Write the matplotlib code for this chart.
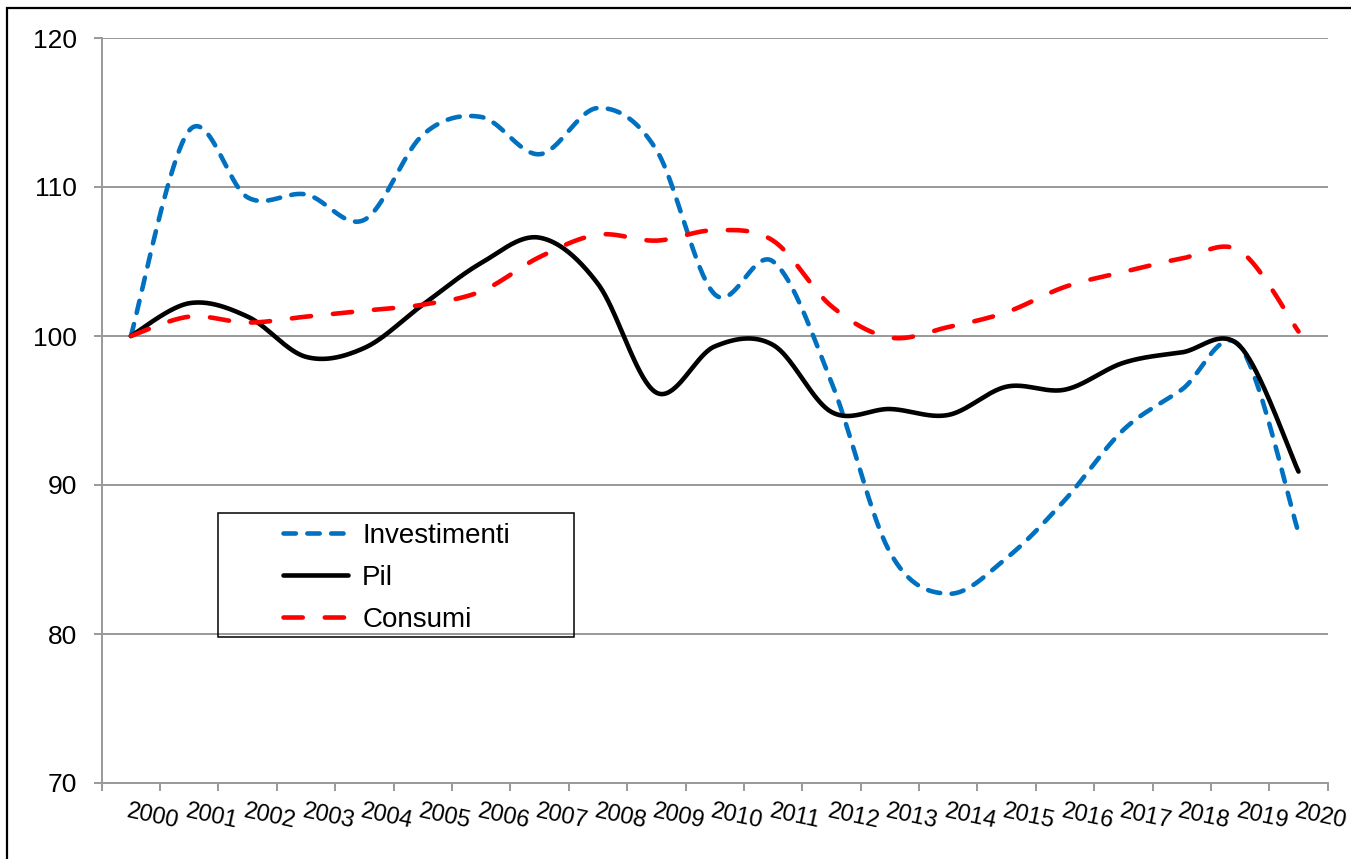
import numpy as np
import matplotlib
matplotlib.use("Agg")
import matplotlib.pyplot as plt
from matplotlib.patches import Rectangle
from matplotlib.lines import Line2D
from matplotlib.transforms import ScaledTranslation

plt.rcParams['font.family'] = ['Liberation Sans', 'DejaVu Sans']

years = [str(y) for y in range(2000, 2021)]
investimenti = [100.0, 113.8, 109.3, 109.5, 107.8, 113.5, 114.7, 112.2, 115.3, 112.5,
                102.8, 105.0, 96.9, 85.5, 82.7, 85.1, 89.0, 93.7, 96.4, 99.3, 86.8]
pil = [100.0, 102.2, 101.3, 98.6, 99.2, 102.1, 104.9, 106.6, 103.5, 96.2,
       99.3, 99.4, 94.9, 95.1, 94.7, 96.6, 96.4, 98.2, 98.9, 99.3, 90.9]
consumi = [100.0, 101.3, 100.9, 101.3, 101.7, 102.1, 103.0, 105.3, 106.8, 106.4,
           107.1, 106.4, 102.0, 99.9, 100.6, 101.6, 103.3, 104.3, 105.2, 105.7, 100.3]
yticks = [70, 80, 90, 100, 110, 120]


def smooth(y, n=40):
    """Excel-like smoothed line (Catmull-Rom Bezier) through category points."""
    x = np.arange(len(y), dtype=float)
    y = np.asarray(y, dtype=float)
    px = np.concatenate([[x[0]], x, [x[-1]]])
    py = np.concatenate([[y[0]], y, [y[-1]]])
    t = np.linspace(0, 1, n, endpoint=False)[:, None]
    out = []
    for i in range(1, len(px) - 2):
        p0 = np.array([px[i - 1], py[i - 1]])
        p1 = np.array([px[i], py[i]])
        p2 = np.array([px[i + 1], py[i + 1]])
        p3 = np.array([px[i + 2], py[i + 2]])
        c1 = p1 + (p2 - p0) / 6.0
        c2 = p2 - (p3 - p1) / 6.0
        pts = ((1 - t) ** 3) * p1 + 3 * ((1 - t) ** 2) * t * c1 + 3 * (1 - t) * t ** 2 * c2 + t ** 3 * p2
        out.append(pts)
    out.append(np.array([[x[-1], y[-1]]]))
    out = np.vstack(out)
    return out[:, 0], out[:, 1]


W, H = 1351, 859
fig = plt.figure(figsize=(W / 100, H / 100), dpi=100)
ax = fig.add_axes([101.7 / W, 1 - 783 / H, (1327.7 - 101.7) / W, (783 - 38) / H])

grid_c = '#999999'
blue = '#0070C0'
red = '#FF0000'
LW = 3.3
blue_ls = (0, (2.7, 2.5))
red_ls = (0, (4.2, 4.8))

xb, yb = smooth(investimenti)
ax.plot(xb, yb, color=blue, lw=LW, linestyle=blue_ls, dash_capstyle='round',
        solid_capstyle='round', zorder=3)
xk, yk = smooth(pil)
ax.plot(xk, yk, color='black', lw=LW, solid_capstyle='round', zorder=4)
xr, yr = smooth(consumi)
ax.plot(xr, yr, color=red, lw=LW, linestyle=red_ls, dash_capstyle='round',
        solid_capstyle='round', zorder=5)

ax.set_xlim(-0.5, len(years) - 0.5)
ax.set_ylim(70, 120)
ax.set_yticks(yticks)
ax.set_yticklabels([str(v) for v in yticks], fontsize=19)
ax.set_xticks(np.arange(-0.5, len(years), 1.0))
ax.set_xticklabels([])
ax.grid(axis='y', color=grid_c, lw=1.4)
ax.set_axisbelow(True)
for s in ['top', 'right']:
    ax.spines[s].set_visible(False)
for s in ['left', 'bottom']:
    ax.spines[s].set_color(grid_c)
    ax.spines[s].set_linewidth(1.4)
ax.tick_params(axis='both', direction='out', length=6, width=1.4, color=grid_c)
ax.tick_params(axis='y', pad=12)

off = ScaledTranslation(-1 / 100, -17 / 100, fig.dpi_scale_trans)
for i, lab in enumerate(years):
    ax.text(i, 0, lab, transform=ax.get_xaxis_transform() + off, fontsize=17,
            rotation=-12, rotation_mode='anchor', ha='left', va='top')

handles = [Line2D([], [], color=blue, lw=LW, linestyle=blue_ls, dash_capstyle='round'),
           Line2D([], [], color='black', lw=LW, solid_capstyle='round'),
           Line2D([], [], color=red, lw=LW, linestyle=red_ls, dash_capstyle='round')]
leg = fig.legend(handles, ['Investimenti', 'Pil', 'Consumi'], loc='center left',
                 bbox_to_anchor=(283 / W, 1 - 578 / H), bbox_transform=fig.transFigure,
                 frameon=False, fontsize=20, handlelength=2.35, handletextpad=0.5,
                 labelspacing=0.58, borderpad=0, borderaxespad=0)

fig.patches.append(Rectangle((218 / W, 1 - 637 / H), (574 - 218) / W, (637 - 513) / H,
                             transform=fig.transFigure, fill=False, edgecolor='black',
                             lw=1.1, zorder=10))
fig.patches.append(Rectangle((7 / W, -0.05), 1.1, 1 - 8 / H + 0.05,
                             transform=fig.transFigure, fill=False, edgecolor='black',
                             lw=1.6, zorder=10, clip_on=False))

fig.savefig('out.png', dpi=100)
